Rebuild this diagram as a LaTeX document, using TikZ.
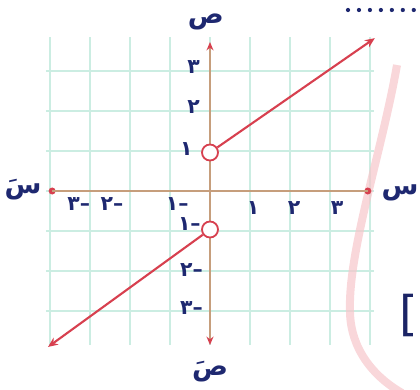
\documentclass[tikz,border=0pt]{standalone}
\usepackage{fontspec}
\usepackage{xcolor}
\usetikzlibrary{arrows.meta,positioning,calc}
\TeXXeTstate=1
\newfontfamily\arabicfont[Script=Arabic]{DejaVu Sans}
\newfontfamily\numfont{DejaVu Sans}
\definecolor{grGrid}{HTML}{CBEDE2}
\definecolor{grAxis}{HTML}{C69E7C}
\definecolor{grLine}{HTML}{D7404F}
\definecolor{grInk}{HTML}{1E2870}
\definecolor{grPink}{HTML}{F6C6CB}
\tikzset{
  % Light grid
  gridline/.style={draw=grGrid,line width=0.9pt},
  % Axes (tan)
  axisline/.style={draw=grAxis,line width=1.4pt},
  % Red end dot of the x axis
  enddot/.style={circle,fill=grLine,inner sep=0pt,minimum size=5pt},
  % Graph rays
  ray/.style={draw=grLine,line width=1.5pt,
    -{Stealth[length=7pt,width=6pt]}},
  % Open circle (excluded point)
  hole/.style={circle,draw=grLine,fill=white,line width=1.3pt,
    inner sep=0pt,minimum size=0.4cm},
  % Axis letters
  axlbl/.style={font=\arabicfont\bfseries\fontsize{19}{19}\selectfont,
    text=grInk,inner sep=0pt},
  % Tick numbers
  num/.style={font=\numfont\bfseries\fontsize{14.5}{14.5}\selectfont,
    text=grInk,inner sep=0pt},
  % Page marks
  pagearc/.style={draw=grPink,line width=0.2cm,opacity=0.7},
  dotrow/.style={draw=grInk,line width=3pt,line cap=round,
    dash pattern=on 0pt off 7.8pt},
}
\begin{document}
\begin{tikzpicture}[x=1.025cm,y=0.9625cm]
  \useasboundingbox (-5.25cm,-4.975cm) rectangle (5.25cm,4.775cm);

  \draw[gridline] (-4,-4) grid (4,4);

  % page marks
  \draw[pagearc] (4.675cm,3.15cm) .. controls (4.3cm,1.0cm) and (3.45cm,-1.5cm)
    .. (3.5cm,-3.0cm) .. controls (3.5cm,-3.7cm) and (3.85cm,-4.5cm) .. (4.8cm,-5.05cm);
  \draw[dotrow] (3.45cm,4.525cm) -- (5.3cm,4.525cm);
  \node[font=\numfont\fontsize{34}{34}\selectfont,text=grInk!90!black,
    anchor=west,inner sep=0pt] (brk) at (4.72cm,-3.12cm) {[};

  % axes
  \node[enddot] (xl) at (-3.85,0) {};
  \node[enddot] (xr) at (3.85,0) {};
  \coordinate (yt) at (0,3.87);
  \coordinate (yb) at (0,-4);
  \draw[axisline] (xl.center) -- (xr.center);
  \draw[axisline,{Stealth[grLine,length=6pt,width=5pt]}-{Stealth[grLine,length=6pt,width=5pt]}]
    (yb) -- (yt);

  % graph
  \node[hole] (up) at (0,1) {};
  \node[hole] (down) at (0,-1) {};
  \coordinate (upend) at (4.02,3.97);
  \coordinate (downend) at (-3.95,-4.05);
  \draw[ray] (up) -- (upend);
  \draw[ray] (down) -- (downend);

  % axis letters
  \node[axlbl] (ytop) at (-0.1,4.39) {\beginR ص\endR};
  \node[axlbl] (ybot) at (0,-4.7) {\beginR صَ\endR};
  \node[axlbl] (xleft) at (-4.56,0.03) {\beginR سَ\endR};
  \node[axlbl,anchor=east] (xright) at (5.22cm,-0.05) {\beginR س\endR};

  % numbers on the x axis
  \node[num] (xp1) at (1.05,-0.45) {١};
  \node[num] (xp2) at (2.05,-0.45) {٢};
  \node[num] (xp3) at (3.1,-0.45) {٣};
  \node[num] (xm1) at (-0.8,-0.33) {١–};
  \node[num] (xm2) at (-2.39,-0.33) {٢–};
  \node[num] (xm3) at (-3.2,-0.33) {٣–};

  % numbers on the y axis
  \node[num,anchor=east] (yp3) at (-0.24,3.22) {٣};
  \node[num,anchor=east] (yp2) at (-0.24,2.18) {٢};
  \node[num,anchor=east] (yp1) at (-0.42,1.1) {١};
  \node[num,anchor=east] (ym1) at (-0.22,-0.85) {١–};
  \node[num,anchor=east] (ym2) at (-0.17,-2.05) {٢–};
  \node[num,anchor=east] (ym3) at (-0.17,-3.04) {٣–};
\end{tikzpicture}
\end{document}
